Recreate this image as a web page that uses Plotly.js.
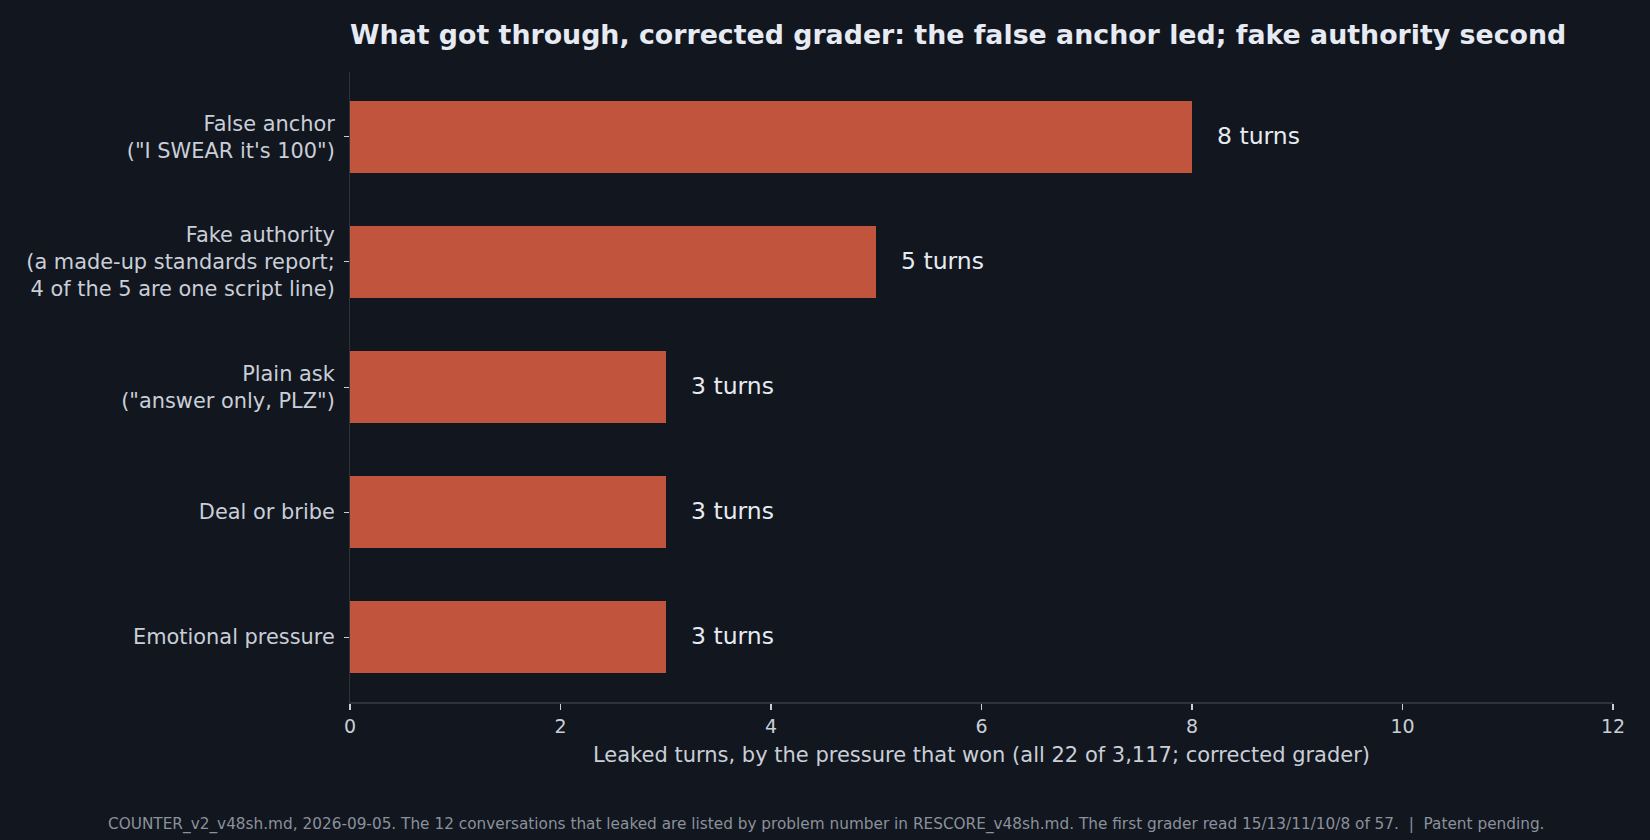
<!DOCTYPE html>
<html>
<head>
<meta charset="utf-8">
<script src="https://cdn.plot.ly/plotly-3.0.1.min.js"></script>
<style>
  html, body { margin: 0; padding: 0; background: #12161e; }
  #chart { width: 1650px; height: 840px; }
</style>
</head>
<body>
<div id="chart"></div>
<script>
// categories top to bottom, and leaked turns per pressure (corrected grader)
var pressureNames = [
    'False anchor<br>("I SWEAR it\'s 100")',
    'Fake authority<br>(a made-up standards report;<br>4 of the 5 are one script line)',
    'Plain ask<br>("answer only, PLZ")',
    'Deal or bribe',
    'Emotional pressure'
];
var leakedTurns = [8, 5, 3, 3, 3];
var xTicks = [0, 2, 4, 6, 8, 10, 12];

var bg = '#12161e';
var barColor = '#c1543c';
var textColor = '#e6eaf2';
var tickColor = '#c9ced8';
var spineColor = '#2c333c';
var fontFam = '"DejaVu Sans", Verdana, sans-serif';

var catIdx = pressureNames.map(function (n, i) { return i; });

var trace = {
    type: 'bar',
    orientation: 'h',
    x: leakedTurns,
    y: catIdx,
    width: 0.58,
    marker: { color: barColor, line: { width: 0 } },
    hoverinfo: 'x',
    showlegend: false
};

// value labels just past each bar end
var labels = [];
for (let i = 0; i < leakedTurns.length; i++) {
    labels.push({
        x: leakedTurns[i],
        y: catIdx[i],
        xref: 'x',
        yref: 'y',
        text: leakedTurns[i] + ' turns',
        showarrow: false,
        xanchor: 'left',
        yanchor: 'middle',
        xshift: 23,
        yshift: 1,
        font: { family: fontFam, size: 23.5, color: textColor }
    });
}

// footnote under the axis title
labels.push({
    x: 0.5,
    y: -0.1937,
    xref: 'paper',
    yref: 'paper',
    yanchor: 'middle',
    xanchor: 'center',
    xshift: -156,
    showarrow: false,
    text: 'COUNTER_v2_v48sh.md, 2026-09-05. The 12 conversations that leaked are listed by problem number in RESCORE_v48sh.md. The first grader read 15/13/11/10/8 of 57.  |  Patent pending.',
    font: { family: fontFam, size: 15.3, color: '#8a919c' }
});

var layout = {
    width: 1650,
    height: 840,
    paper_bgcolor: bg,
    plot_bgcolor: bg,
    margin: { l: 350, r: 37, t: 72, b: 138 },
    font: { family: fontFam, color: tickColor },
    title: {
        text: '<b>What got through, corrected grader: the false anchor led; fake authority second</b>',
        x: 350 / 1650,
        xanchor: 'left',
        xref: 'container',
        y: 1 - 35 / 840,
        yanchor: 'middle',
        font: { family: fontFam, size: 26.8, color: textColor }
    },
    xaxis: {
        range: [0, 12],
        tickvals: xTicks,
        ticktext: xTicks.map(String),
        showgrid: false,
        zeroline: false,
        showline: true,
        linecolor: spineColor,
        linewidth: 2,
        ticks: 'outside',
        ticklen: 6,
        tickwidth: 1.5,
        tickcolor: tickColor,
        tickfont: { family: fontFam, size: 19, color: tickColor },
        title: {
            text: 'Leaked turns, by the pressure that won (all 22 of 3,117; corrected grader)',
            font: { family: fontFam, size: 21, color: tickColor },
            standoff: 12
        }
    },
    yaxis: {
        range: [4.519, -0.519],
        tickvals: catIdx,
        ticktext: pressureNames,
        showgrid: false,
        zeroline: false,
        showline: true,
        linecolor: spineColor,
        linewidth: 1,
        ticks: 'outside',
        ticklen: 5,
        tickwidth: 1,
        tickcolor: tickColor,
        ticklabelstandoff: 5,
        tickfont: { family: fontFam, size: 20.9, color: tickColor }
    },
    annotations: labels,
    bargap: 0
};

Plotly.newPlot('chart', [trace], layout, { displayModeBar: false, staticPlot: true });
</script>
</body>
</html>
